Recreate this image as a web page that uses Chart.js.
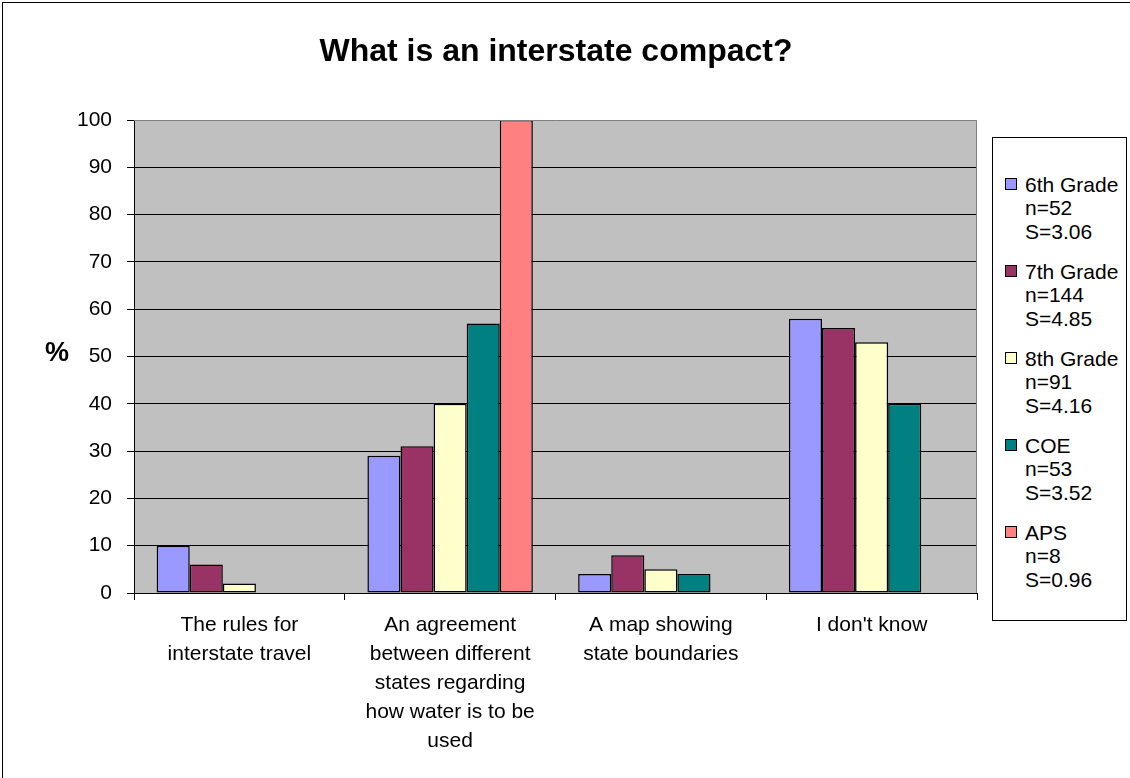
<!DOCTYPE html>
<html>
<head>
<meta charset="utf-8">
<script src="https://cdn.jsdelivr.net/npm/chart.js@4.4.0/dist/chart.umd.min.js"></script>
<style>
  html, body { margin: 0; padding: 0; background: #fff; }
  #wrap { position: relative; width: 1130px; height: 778px; font-family: Arial, "Liberation Sans", sans-serif; overflow: hidden; }
  #frame { position: absolute; left: 2px; top: 2px; width: 1140px; height: 800px; border-left: 1px solid #000; border-top: 1px solid #000; }
  #title { position: absolute; left: 0; width: 1112px; top: 34px; text-align: center; font-weight: bold; font-size: 32px; line-height: 32px; }
  #ylab { position: absolute; left: 45px; top: 339px; font-weight: bold; font-size: 27px; line-height: 27px; }
  #legend { position: absolute; left: 992px; top: 137px; width: 135px; height: 484px; border: 1px solid #000; box-sizing: border-box; background: #fff; }
  .item { position: absolute; left: 12px; font-size: 21px; line-height: 23.5px; color: #000; }
  .item .box { position: absolute; left: 0; top: 5.5px; width: 12px; height: 12px; border: 1px solid #000; box-sizing: border-box; }
  .item .txt { margin-left: 20px; white-space: nowrap; }
  canvas { position: absolute; left: 0; top: 0; }
</style>
</head>
<body>
<div id="wrap">
  <div id="frame"></div>
  <canvas id="chart" width="1130" height="778"></canvas>
  <div id="title">What is an interstate compact?</div>
  <div id="ylab">%</div>
  <div id="legend"></div>
</div>
<script>
// categories (multi-line labels as in the original)
const categories = [
  ['The rules for', 'interstate travel'],
  ['An agreement', 'between different', 'states regarding', 'how water is to be', 'used'],
  ['A map showing', 'state boundaries'],
  ["I don't know"]
];

const seriesNames = ['6th Grade', '7th Grade', '8th Grade', 'COE', 'APS'];
const seriesNotes = [
  ['n=52', 'S=3.06'],
  ['n=144', 'S=4.85'],
  ['n=91', 'S=4.16'],
  ['n=53', 'S=3.52'],
  ['n=8', 'S=0.96']
];
const seriesColors = ['#9999FF', '#993366', '#FFFFCC', '#008080', '#FF8080'];

const grade6 = [10, 29, 4, 58];
const grade7 = [6, 31, 8, 56];
const grade8 = [2, 40, 5, 53];
const coe = [0, 57, 4, 40];
const aps = [0, 100, 0, 0];

const yTicks = [0, 10, 20, 30, 40, 50, 60, 70, 80, 90, 100];

const seriesValues = [grade6, grade7, grade8, coe, aps];

// gray plot background + gray plot border on top/right
const plotBg = {
  id: 'plotBg',
  beforeDraw(chart) {
    const { ctx, chartArea: a } = chart;
    ctx.save();
    ctx.fillStyle = '#C0C0C0';
    ctx.fillRect(a.left, a.top, a.right - a.left, a.bottom - a.top);
    ctx.restore();
  },
  afterDatasetsDraw(chart) {
    const { ctx, chartArea: a } = chart;
    ctx.save();
    ctx.strokeStyle = '#808080';
    ctx.lineWidth = 1;
    ctx.beginPath();
    ctx.moveTo(a.left, a.top + 0.5);
    ctx.lineTo(a.right - 0.5, a.top + 0.5);
    ctx.lineTo(a.right - 0.5, a.bottom);
    ctx.stroke();
    ctx.restore();
  }
};

const font = 'Arial, "Liberation Sans", sans-serif';

const chart = new Chart(document.getElementById('chart'), {
  type: 'bar',
  data: {
    labels: categories,
    datasets: seriesNames.map((name, i) => ({
      label: name,
      data: seriesValues[i],
      backgroundColor: seriesColors[i],
      borderColor: '#000',
      borderWidth: 1.5,
      borderSkipped: false,
      categoryPercentage: 0.785,
      barPercentage: 1.0
    }))
  },
  options: {
    responsive: false,
    animation: false,
    layout: { padding: { left: 0, top: 120, right: 153, bottom: 0 } },
    plugins: {
      legend: { display: false },
      title: { display: false },
      tooltip: { enabled: false }
    },
    scales: {
      x: {
        offset: true,
        grid: { display: true, drawOnChartArea: false, offset: true, color: '#000', tickLength: 7, tickColor: '#000' },
        border: { display: true, color: '#000', width: 1 },
        ticks: {
          color: '#000', padding: 11, maxRotation: 0, autoSkip: false,
          font: { family: font, size: 21, lineHeight: 1.381 }
        },
        afterFit(s) { s.height = 778 - 593; }
      },
      y: {
        min: 0, max: 100,
        afterBuildTicks(s) { s.ticks = yTicks.map(v => ({ value: v })); },
        grid: { color: ctx => ctx.tick && ctx.tick.value === 100 ? 'rgba(0,0,0,0)' : '#000', tickColor: '#000', tickLength: 7, lineWidth: 1 },
        border: { display: true, color: '#000', width: 1 },
        ticks: {
          color: '#000', padding: 15,
          font: { family: font, size: 21 }
        },
        afterFit(s) { s.width = 134; }
      }
    }
  },
  plugins: [plotBg]
});

// legend built from the series arrays
const legend = document.getElementById('legend');
seriesNames.forEach((name, i) => {
  const el = document.createElement('div');
  el.className = 'item';
  el.style.top = (34.5 + i * 87) + 'px';
  el.innerHTML = '<span class="box" style="background:' + seriesColors[i] + '"></span>' +
    '<div class="txt">' + [name].concat(seriesNotes[i]).join('<br>') + '</div>';
  legend.appendChild(el);
});
</script>
</body>
</html>
